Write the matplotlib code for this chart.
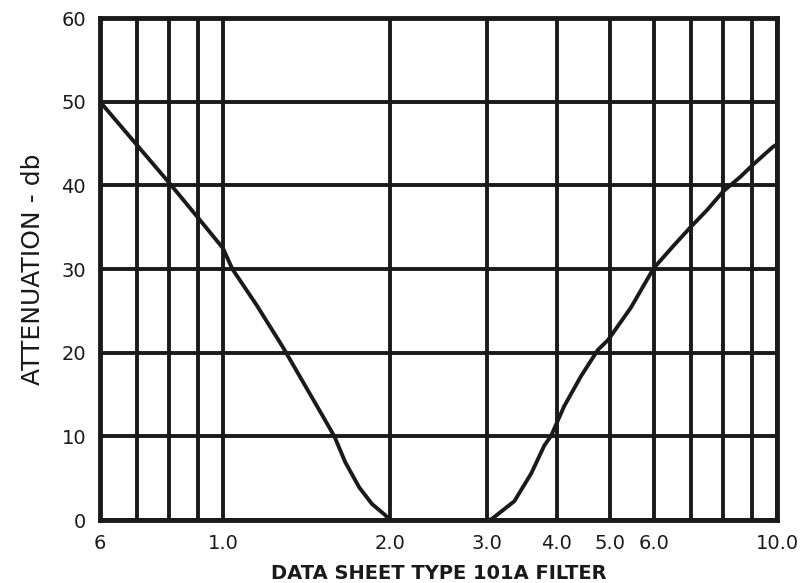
import matplotlib.pyplot as plt
from matplotlib.ticker import FixedLocator, NullLocator

# frequency (kc) vs attenuation (db)
freq = [0.6, 0.7, 0.8, 0.9, 1.0, 1.04, 1.15, 1.282, 1.409, 1.512, 1.589,
        1.663, 1.762, 1.859, 1.962, 2.0, 3.0, 3.053, 3.357, 3.603, 3.802,
        3.913, 4.129, 4.429, 4.752, 4.953, 5.45, 5.99, 6.508, 6.98, 7.49,
        8.0, 8.58, 9.06, 9.83, 10.0]
atten = [50.0, 44.8, 40.3, 36.2, 32.5, 30.0, 25.7, 20.7, 16.0, 12.5, 10.0,
         6.9, 3.9, 1.9, 0.6, 0.0, 0.0, 0.1, 2.25, 5.6, 8.9,
         10.1, 13.6, 17.2, 20.35, 21.5, 25.4, 30.1, 32.8, 35.0, 37.1,
         39.3, 41.0, 42.5, 44.6, 44.9]

grid_x = [0.6, 0.7, 0.8, 0.9, 1.0, 2.0, 3.0, 4.0, 5.0, 6.0, 7.0, 8.0, 9.0, 10.0]
tick_x = [0.6, 1.0, 2.0, 3.0, 4.0, 5.0, 6.0, 10.0]
tick_x_labels = ["6", "1.0", "2.0", "3.0", "4.0", "5.0", "6.0", "10.0"]
tick_y = [0, 10, 20, 30, 40, 50, 60]

fig = plt.figure(figsize=(8.04, 5.83), dpi=100)
ax = fig.add_axes([0.1244, 0.108, 0.842, 0.861])

ax.set_xscale("log")
ax.set_xlim(0.6, 10.0)
ax.set_ylim(0, 60)

for gx in grid_x:
    ax.axvline(gx, color="#1a1a1a", lw=2.8, zorder=1)
for gy in tick_y:
    ax.axhline(gy, color="#1a1a1a", lw=2.8, zorder=1)

ax.plot(freq, atten, color="#1a1a1a", lw=2.8, solid_joinstyle="round",
        solid_capstyle="round", zorder=2)

ax.xaxis.set_major_locator(FixedLocator(tick_x))
ax.xaxis.set_minor_locator(NullLocator())
ax.set_xticklabels(tick_x_labels)
ax.set_yticks(tick_y)
ax.tick_params(length=0, labelsize=14, colors="#1a1a1a", pad=10)

for s in ax.spines.values():
    s.set_linewidth(3.5)
    s.set_color("#1a1a1a")

ax.set_xlabel("DATA SHEET TYPE 101A FILTER", fontsize=14, fontweight="bold",
              color="#1a1a1a", labelpad=8)
ax.set_ylabel("ATTENUATION - db", fontsize=18, color="#1a1a1a", labelpad=12)

fig.savefig("out.png", dpi=100)
